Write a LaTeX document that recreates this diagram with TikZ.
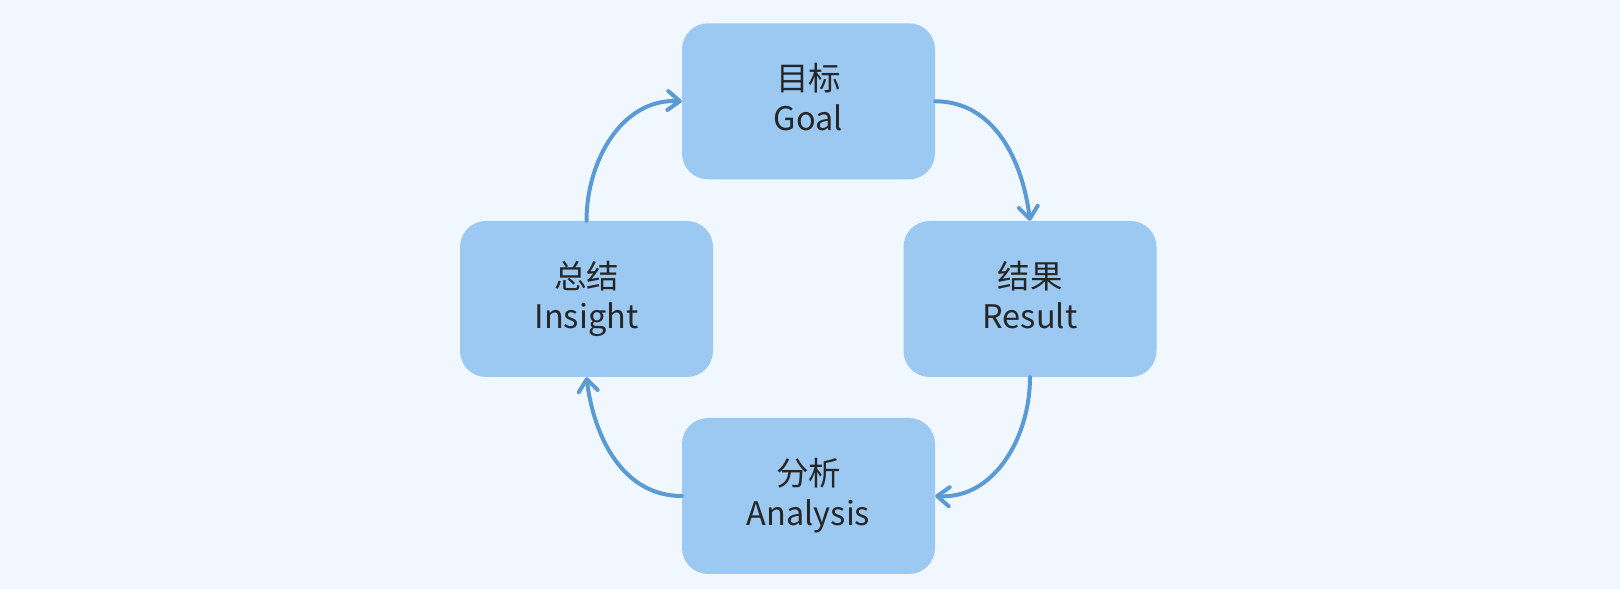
\documentclass[tikz,border=0pt]{standalone}
\usepackage{fontspec}
\setmainfont{Noto Sans CJK SC}
\usetikzlibrary{arrows.meta}
\definecolor{bgc}{RGB}{241,247,254}
\definecolor{boxc}{RGB}{155,201,242}
\definecolor{linec}{RGB}{91,155,213}
\definecolor{txtc}{RGB}{38,38,38}
\begin{document}
\begin{tikzpicture}[x=1pt,y=1pt,
  card/.style={fill=boxc,draw=none,rounded corners=26pt,minimum width=253pt,minimum height=156pt,inner sep=0pt},
  cn/.style={text=txtc,font=\fontsize{32.5}{36}\selectfont,inner sep=0pt,anchor=center},
  en/.style={text=txtc,font=\fontsize{32.5}{36}\selectfont,inner sep=0pt,anchor=base},
  flow/.style={draw=linec,line width=4pt,line cap=round,-{Straight Barb[length=12pt,width=19pt,line cap=round,line join=round]}}]
\fill[bgc] (0,0) rectangle (1620,589);
\useasboundingbox (0,0) rectangle (1620,589);
\node[card] (goal) at (808.5,487.7) {};
\node[card] (insight) at (586.5,290) {};
\node[card] (result) at (1030,290) {};
\node[card] (analysis) at (808.5,93) {};
\node[cn] (goalcn) at ([yshift=23pt]goal.center) {目标};
\node[en] (goalen) at ([yshift=-29.5pt]goal.center) {Goal};
\node[cn] (insightcn) at ([yshift=23pt]insight.center) {总结};
\node[en] (insighten) at ([yshift=-29.5pt]insight.center) {Insight};
\node[cn] (resultcn) at ([yshift=23pt]result.center) {结果};
\node[en] (resulten) at ([yshift=-29.5pt]result.center) {Result};
\node[cn] (analysiscn) at ([yshift=23pt]analysis.center) {分析};
\node[en] (analysisen) at ([yshift=-29.5pt]analysis.center) {Analysis};
\draw[flow] (goal.east) to[out=0,in=97,looseness=1] (result.north);
\draw[flow] (result.south) to[out=-90,in=-3,looseness=1] (analysis.east);
\draw[flow] (analysis.west) to[out=180,in=-83,looseness=1] (insight.south);
\draw[flow] (insight.north) to[out=90,in=177,looseness=1] (goal.west);
\end{tikzpicture}
\end{document}
